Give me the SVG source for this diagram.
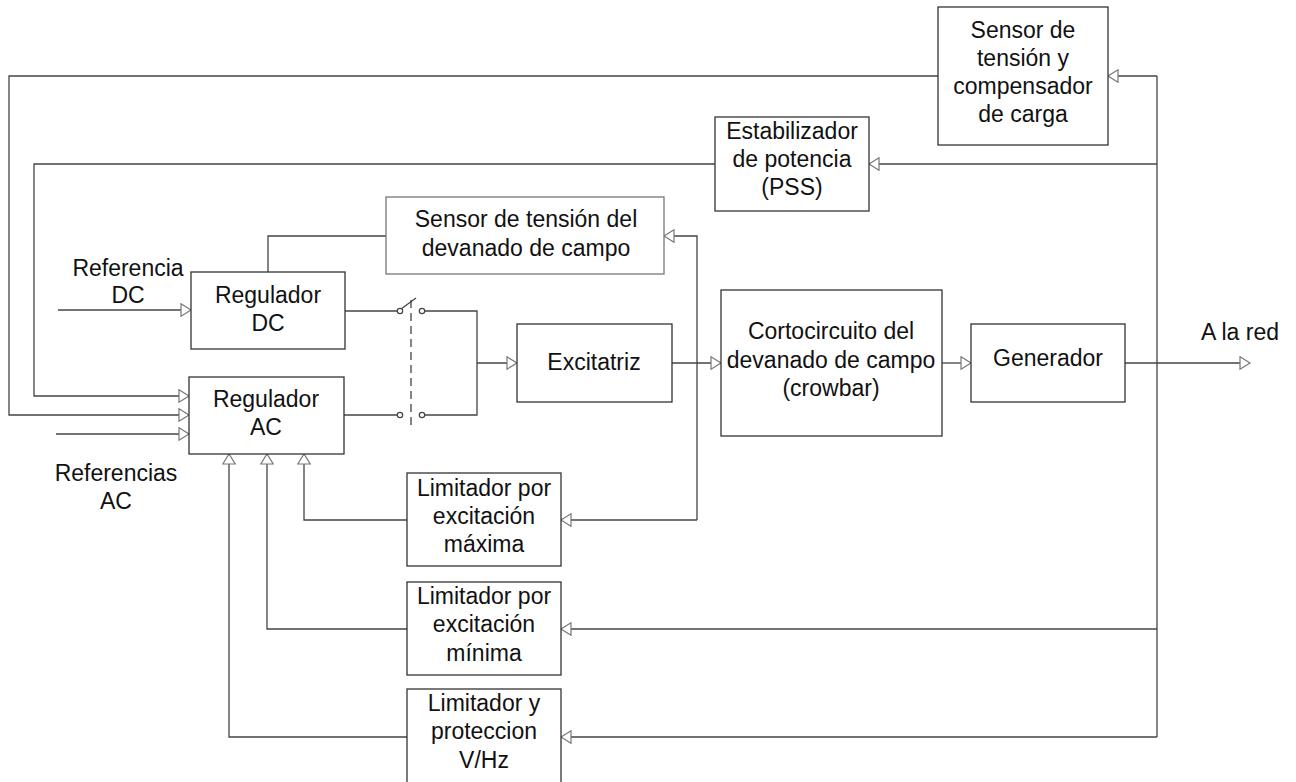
<svg xmlns="http://www.w3.org/2000/svg" width="1296" height="782" viewBox="0 0 1296 782">
<style>
.box{fill:#fff;stroke:#333;stroke-width:1.3}
.ln{fill:none;stroke:#444;stroke-width:1.3}
.arr{marker-end:url(#ah)}
.t{font-family:"Liberation Sans",Arial,sans-serif;font-size:23px;fill:#111;text-anchor:middle}
.sw{fill:#fff;stroke:#444;stroke-width:1.2}
</style>
<defs>
<marker id="ah" markerUnits="userSpaceOnUse" markerWidth="14" markerHeight="16" refX="11" refY="7" orient="auto">
<path d="M1,0.8 L11,7 L1,13.2 Z" fill="#fff" stroke="#777" stroke-width="1.2"/>
</marker>
</defs>
<rect width="1296" height="782" fill="#fff"/>

<g id="connectors">
<polyline class="ln arr" points="938,76 9,76 9,415 189,415"/>
<polyline class="ln arr" points="715,164 34,164 34,396 189,396"/>
<line class="ln arr" x1="56" y1="434" x2="189" y2="434"/>
<line class="ln arr" x1="58" y1="310" x2="191" y2="310"/>
<polyline class="ln" points="386,236 268,236 268,272"/>
<line class="ln" x1="1157" y1="76" x2="1157" y2="737"/>
<line class="ln arr" x1="1157" y1="76" x2="1108" y2="76"/>
<line class="ln arr" x1="1157" y1="164" x2="869" y2="164"/>
<line class="ln arr" x1="1157" y1="629" x2="561" y2="629"/>
<line class="ln arr" x1="1157" y1="737" x2="561" y2="737"/>
<line class="ln arr" x1="1125" y1="363" x2="1250" y2="363"/>
<line class="ln arr" x1="477" y1="363" x2="517" y2="363"/>
<line class="ln arr" x1="672" y1="363" x2="721" y2="363"/>
<line class="ln arr" x1="942" y1="363" x2="971" y2="363"/>
<polyline class="ln arr" points="697,520 697,236 664,236"/>
<line class="ln arr" x1="697" y1="520" x2="561" y2="520"/>
<polyline class="ln arr" points="407,520 304,520 304,454"/>
<polyline class="ln arr" points="407,629 267,629 267,454"/>
<polyline class="ln arr" points="407,737 229,737 229,454"/>
<line class="ln" x1="345" y1="311" x2="397" y2="311"/>
<line class="ln" x1="344" y1="415" x2="397" y2="415"/>
<polyline class="ln" points="425,311 477,311 477,415 425,415"/>
<line class="ln" x1="401" y1="309" x2="416" y2="298"/>
<line class="ln" x1="411" y1="300" x2="411" y2="428" stroke-dasharray="8,5"/>
<circle class="sw" cx="400" cy="311" r="2.7"/>
<circle class="sw" cx="422" cy="311" r="2.7"/>
<circle class="sw" cx="400" cy="415" r="2.7"/>
<circle class="sw" cx="422" cy="415" r="2.7"/>
</g>

<g id="sensor-tension">
<rect class="box" x="938" y="7" width="170" height="138"/>
<text class="t" x="1023" y="38">Sensor de</text>
<text class="t" x="1023" y="66">tensión y</text>
<text class="t" x="1023" y="94">compensador</text>
<text class="t" x="1023" y="122">de carga</text>
</g>
<g id="pss">
<rect class="box" x="715" y="117" width="154" height="94"/>
<text class="t" x="792" y="139">Estabilizador</text>
<text class="t" x="792" y="167">de potencia</text>
<text class="t" x="792" y="195">(PSS)</text>
</g>
<g id="sensor-campo">
<rect class="box" x="386" y="197" width="278" height="77" style="stroke:#777"/>
<text class="t" x="526" y="227">Sensor de tensión del</text>
<text class="t" x="526" y="256">devanado de campo</text>
</g>
<g id="regulador-dc">
<rect class="box" x="191" y="272" width="154" height="77"/>
<text class="t" x="268" y="303">Regulador</text>
<text class="t" x="268" y="331">DC</text>
</g>
<g id="regulador-ac">
<rect class="box" x="189" y="377" width="155" height="77"/>
<text class="t" x="266" y="407">Regulador</text>
<text class="t" x="266" y="435">AC</text>
</g>
<g id="excitatriz">
<rect class="box" x="517" y="324" width="155" height="78"/>
<text class="t" x="594" y="370">Excitatriz</text>
</g>
<g id="crowbar">
<rect class="box" x="721" y="290" width="221" height="146"/>
<text class="t" x="831" y="339">Cortocircuito del</text>
<text class="t" x="831" y="368">devanado de campo</text>
<text class="t" x="831" y="396">(crowbar)</text>
</g>
<g id="generador">
<rect class="box" x="971" y="324" width="154" height="78"/>
<text class="t" x="1048" y="366">Generador</text>
</g>
<g id="lim-max">
<rect class="box" x="407" y="473" width="154" height="93"/>
<text class="t" x="484" y="496">Limitador por</text>
<text class="t" x="484" y="524">excitación</text>
<text class="t" x="484" y="552">máxima</text>
</g>
<g id="lim-min">
<rect class="box" x="407" y="582" width="154" height="93"/>
<text class="t" x="484" y="604">Limitador por</text>
<text class="t" x="484" y="632">excitación</text>
<text class="t" x="484" y="661">mínima</text>
</g>
<g id="lim-vhz">
<rect class="box" x="407" y="689" width="154" height="100"/>
<text class="t" x="484" y="711">Limitador y</text>
<text class="t" x="484" y="739">proteccion</text>
<text class="t" x="484" y="768">V/Hz</text>
</g>
<g id="labels">
<text class="t" x="1240" y="340">A la red</text>
<text class="t" x="128" y="276">Referencia</text>
<text class="t" x="128" y="303">DC</text>
<text class="t" x="116" y="481">Referencias</text>
<text class="t" x="116" y="509">AC</text>
</g>
</svg>
